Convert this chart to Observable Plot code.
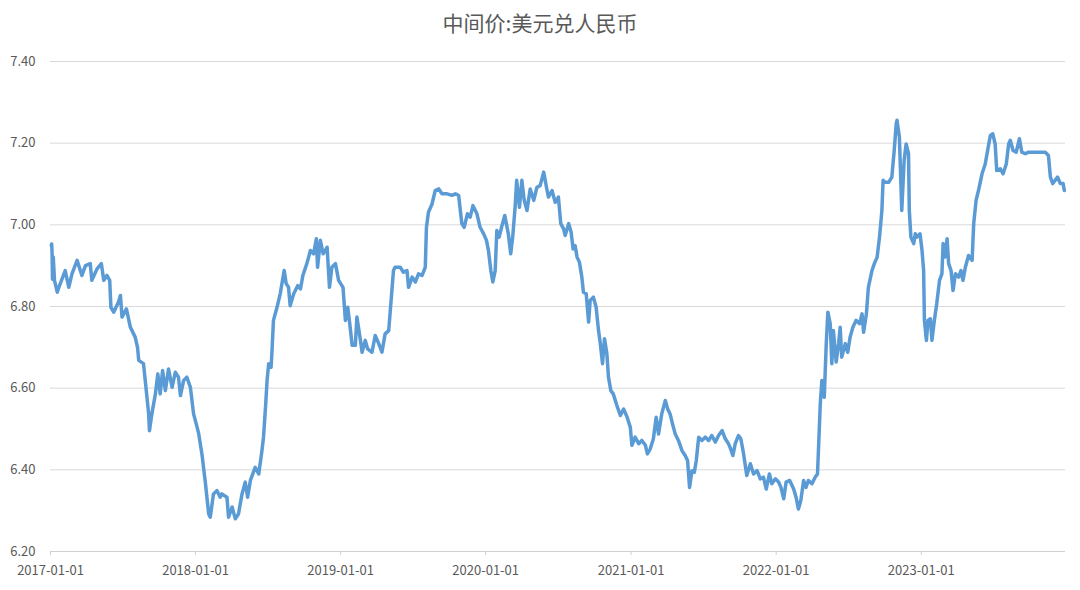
<!DOCTYPE html>
<html>
<head>
<meta charset="utf-8">
<script src="https://cdn.jsdelivr.net/npm/d3@7"></script>
<script src="https://cdn.jsdelivr.net/npm/@observablehq/plot@0.6"></script>
<style>
  html, body { margin: 0; padding: 0; background: #ffffff; }
  #wrap { width: 1080px; height: 590px; overflow: hidden; }
  #title {
    height: 40px; line-height: 44px; text-align: center;
    font-family: "Microsoft YaHei", "Noto Sans CJK SC", sans-serif;
    font-size: 21px; color: #595959;
  }
</style>
</head>
<body>
<div id="wrap">
  <div id="title">中间价:美元兑人民币</div>
  <div id="chart"></div>
</div>
<script>
const chartTitle = "中间价:美元兑人民币";

const dates = [
"2017-01-03","2017-01-04","2017-01-05","2017-01-06","2017-01-08","2017-01-11","2017-01-18","2017-01-22","2017-02-07","2017-02-16",
"2017-02-24","2017-03-09","2017-03-21","2017-03-30","2017-04-11","2017-04-15","2017-04-28","2017-05-09","2017-05-15","2017-05-23",
"2017-05-30","2017-06-02","2017-06-09","2017-06-21","2017-06-26","2017-06-30","2017-07-11","2017-07-21","2017-08-02","2017-08-08",
"2017-08-11","2017-08-23","2017-08-30","2017-09-05","2017-09-07","2017-09-13","2017-09-22","2017-09-28","2017-10-04","2017-10-10",
"2017-10-17","2017-10-25","2017-11-03","2017-11-11","2017-11-19","2017-11-24","2017-12-02","2017-12-10","2017-12-19","2017-12-27",
"2018-01-05","2018-01-09","2018-01-17","2018-01-26","2018-02-03","2018-02-07","2018-02-15","2018-02-24","2018-03-04","2018-03-08",
"2018-03-21","2018-03-25","2018-04-03","2018-04-11","2018-04-19","2018-04-28","2018-05-06","2018-05-12","2018-05-19","2018-05-31",
"2018-06-09","2018-06-17","2018-06-21","2018-06-26","2018-06-30","2018-07-04","2018-07-10","2018-07-12","2018-07-16","2018-07-25",
"2018-08-02","2018-08-12","2018-08-17","2018-08-23","2018-08-27","2018-09-05","2018-09-15","2018-09-22","2018-09-28","2018-10-08",
"2018-10-17","2018-10-25","2018-11-01","2018-11-04","2018-11-11","2018-11-18","2018-11-28","2018-12-04","2018-12-10","2018-12-19",
"2018-12-27","2019-01-07","2019-01-13","2019-01-19","2019-01-25","2019-01-30","2019-02-07","2019-02-11","2019-02-20","2019-02-24",
"2019-03-04","2019-03-10","2019-03-21","2019-03-29","2019-04-07","2019-04-15","2019-04-23","2019-05-02","2019-05-06","2019-05-14",
"2019-05-18","2019-05-31","2019-06-08","2019-06-17","2019-06-21","2019-06-30","2019-07-08","2019-07-16","2019-07-25","2019-08-02",
"2019-08-05","2019-08-10","2019-08-19","2019-08-27","2019-09-05","2019-09-13","2019-09-26","2019-10-08","2019-10-17","2019-10-25",
"2019-11-02","2019-11-08","2019-11-16","2019-11-23","2019-11-30","2019-12-10","2019-12-18","2019-12-27","2020-01-03","2020-01-08",
"2020-01-14","2020-01-19","2020-01-25","2020-01-29","2020-02-04","2020-02-10","2020-02-18","2020-02-27","2020-03-04","2020-03-09",
"2020-03-15","2020-03-19","2020-03-26","2020-04-01","2020-04-07","2020-04-14","2020-04-22","2020-05-01","2020-05-09","2020-05-17",
"2020-05-26","2020-06-02","2020-06-07","2020-06-16","2020-06-24","2020-07-02","2020-07-08","2020-07-15","2020-07-19","2020-07-28",
"2020-08-03","2020-08-08","2020-08-13","2020-08-18","2020-08-24","2020-08-30","2020-09-03","2020-09-10","2020-09-16","2020-09-20",
"2020-09-28","2020-10-05","2020-10-11","2020-10-15","2020-10-21","2020-10-26","2020-11-01","2020-11-05","2020-11-11","2020-11-17",
"2020-11-26","2020-12-05","2020-12-13","2020-12-22","2020-12-30","2021-01-03","2021-01-11","2021-01-20","2021-01-28","2021-02-06",
"2021-02-11","2021-02-18","2021-02-26","2021-03-05","2021-03-11","2021-03-19","2021-03-28","2021-04-03","2021-04-09","2021-04-16",
"2021-04-22","2021-04-30","2021-05-09","2021-05-17","2021-05-23","2021-05-28","2021-06-03","2021-06-09","2021-06-14","2021-06-20",
"2021-06-28","2021-07-07","2021-07-15","2021-07-23","2021-08-01","2021-08-09","2021-08-18","2021-08-26","2021-09-03","2021-09-07",
"2021-09-14","2021-09-20","2021-09-28","2021-10-04","2021-10-11","2021-10-19","2021-10-28","2021-11-05","2021-11-14","2021-11-22",
"2021-11-30","2021-12-07","2021-12-15","2021-12-21","2021-12-30","2022-01-07","2022-01-13","2022-01-20","2022-01-26","2022-02-04",
"2022-02-14","2022-02-20","2022-02-26","2022-03-04","2022-03-11","2022-03-17","2022-03-23","2022-04-01","2022-04-09","2022-04-15",
"2022-04-18","2022-04-22","2022-04-26","2022-05-02","2022-05-07","2022-05-11","2022-05-17","2022-05-21","2022-05-25","2022-06-01",
"2022-06-07","2022-06-11","2022-06-15","2022-06-24","2022-06-30","2022-07-06","2022-07-13","2022-07-21","2022-07-30","2022-08-05",
"2022-08-09","2022-08-16","2022-08-21","2022-08-30","2022-09-05","2022-09-12","2022-09-18","2022-09-24","2022-09-27","2022-10-02",
"2022-10-11","2022-10-19","2022-10-25","2022-10-30","2022-11-01","2022-11-07","2022-11-13","2022-11-19","2022-11-24","2022-11-30",
"2022-12-02","2022-12-06","2022-12-13","2022-12-17","2022-12-21","2022-12-29","2023-01-03","2023-01-07","2023-01-09","2023-01-14",
"2023-01-18","2023-01-24","2023-01-28","2023-02-03","2023-02-09","2023-02-16","2023-02-22","2023-02-25","2023-03-02","2023-03-07",
"2023-03-11","2023-03-17","2023-03-22","2023-03-28","2023-04-05","2023-04-11","2023-04-16","2023-04-22","2023-04-30","2023-05-09",
"2023-05-13","2023-05-19","2023-05-25","2023-06-03","2023-06-11","2023-06-17","2023-06-24","2023-06-30","2023-07-06","2023-07-10",
"2023-07-19","2023-07-26","2023-08-03","2023-08-09","2023-08-13","2023-08-20","2023-08-28","2023-09-05","2023-09-11","2023-09-20",
"2023-09-28","2023-10-11","2023-10-27","2023-11-09","2023-11-17","2023-11-22","2023-11-28","2023-12-04","2023-12-10","2023-12-17",
"2023-12-24","2023-12-27"
];

const values = [
6.950,6.953,6.931,6.867,6.921,6.864,6.835,6.847,6.888,6.847,
6.880,6.913,6.876,6.900,6.905,6.864,6.892,6.905,6.864,6.876,
6.864,6.798,6.786,6.811,6.827,6.774,6.794,6.749,6.725,6.700,
6.668,6.660,6.594,6.537,6.496,6.537,6.586,6.635,6.586,6.643,
6.594,6.647,6.602,6.639,6.627,6.582,6.619,6.627,6.602,6.537,
6.504,6.488,6.439,6.366,6.292,6.284,6.341,6.349,6.333,6.341,
6.333,6.284,6.309,6.280,6.292,6.341,6.370,6.333,6.374,6.406,
6.390,6.447,6.480,6.553,6.619,6.660,6.651,6.684,6.766,6.798,
6.831,6.888,6.856,6.847,6.802,6.831,6.851,6.843,6.876,6.905,
6.937,6.929,6.966,6.896,6.962,6.929,6.945,6.847,6.896,6.905,
6.864,6.847,6.766,6.798,6.749,6.705,6.705,6.774,6.717,6.688,
6.717,6.696,6.688,6.729,6.709,6.688,6.733,6.741,6.790,6.888,
6.896,6.896,6.884,6.888,6.847,6.872,6.860,6.880,6.876,6.896,
6.994,7.031,7.051,7.084,7.088,7.076,7.076,7.072,7.076,7.072,
7.003,6.994,7.027,7.019,7.047,7.027,6.994,6.978,6.962,6.937,
6.888,6.860,6.888,6.986,6.970,6.994,7.023,6.978,6.929,6.970,
7.043,7.109,7.043,7.109,7.060,7.035,7.088,7.060,7.092,7.096,
7.129,7.092,7.068,7.084,7.055,7.068,7.003,6.990,6.974,7.003,
6.982,6.941,6.949,6.921,6.908,6.872,6.835,6.831,6.762,6.815,
6.823,6.798,6.741,6.713,6.660,6.721,6.684,6.627,6.594,6.586,
6.558,6.533,6.549,6.529,6.504,6.460,6.480,6.464,6.472,6.460,
6.439,6.451,6.476,6.529,6.488,6.537,6.570,6.549,6.537,6.509,
6.488,6.472,6.447,6.435,6.423,6.357,6.398,6.394,6.423,6.480,
6.472,6.480,6.472,6.484,6.468,6.484,6.496,6.476,6.464,6.455,
6.435,6.464,6.484,6.476,6.439,6.386,6.415,6.390,6.398,6.378,
6.382,6.353,6.390,6.366,6.378,6.370,6.357,6.329,6.370,6.374,
6.353,6.333,6.304,6.325,6.374,6.357,6.374,6.366,6.382,6.390,
6.464,6.562,6.619,6.578,6.709,6.786,6.758,6.660,6.741,6.664,
6.709,6.749,6.676,6.709,6.688,6.725,6.749,6.766,6.758,6.782,
6.737,6.782,6.847,6.888,6.905,6.921,6.970,7.035,7.109,7.104,
7.104,7.117,7.182,7.247,7.256,7.215,7.035,7.158,7.198,7.174,
7.035,6.970,6.954,6.978,6.970,6.978,6.937,6.888,6.766,6.717,
6.766,6.770,6.717,6.766,6.807,6.864,6.880,6.954,6.921,6.966,
6.905,6.888,6.839,6.880,6.872,6.888,6.864,6.896,6.925,6.913,
7.003,7.060,7.084,7.125,7.149,7.182,7.219,7.223,7.198,7.133,
7.137,7.125,7.149,7.198,7.207,7.182,7.178,7.211,7.178,7.174,
7.178,7.178,7.178,7.178,7.170,7.117,7.101,7.109,7.117,7.101,
7.101,7.084
];

const yTicks = [6.2, 6.4, 6.6, 6.8, 7.0, 7.2, 7.4];
const xTickLabels = ["2017-01-01","2018-01-01","2019-01-01","2020-01-01","2021-01-01","2022-01-01","2023-01-01"];
const xDomain = ["2017-01-01", "2023-12-30"];

const parse = d3.utcParse("%Y-%m-%d");
const data = dates.map((d, i) => ({date: parse(d), value: values[i]}));
const xTicks = xTickLabels.map(parse);

const chart = Plot.plot({
  width: 1080,
  height: 550,
  marginTop: 21,
  marginBottom: 39,
  marginLeft: 50,
  marginRight: 15,
  style: {
    fontFamily: "'Microsoft YaHei', 'Noto Sans CJK SC', 'Liberation Sans', sans-serif",
    fontSize: "13px",
    color: "#595959",
    background: "#ffffff",
    overflow: "visible"
  },
  x: {type: "utc", domain: xDomain.map(parse)},
  y: {domain: [6.2, 7.4]},
  marks: [
    Plot.gridY(yTicks, {stroke: "#d9d9d9", strokeOpacity: 1, strokeWidth: 1}),
    Plot.ruleY([6.2], {stroke: "#d0d0d0", strokeWidth: 1}),
    Plot.axisY(yTicks, {tickSize: 0, tickPadding: 15, tickFormat: d => d.toFixed(2), fill: "#595959", label: null}),
    Plot.axisX(xTicks, {tickSize: 4, tickPadding: 10, stroke: "#d0d0d0", tickFormat: d3.utcFormat("%Y-%m-%d"), fill: "#595959", label: null}),
    Plot.line(data, {x: "date", y: "value", stroke: "#5b9bd5", strokeWidth: 3.5, strokeLinejoin: "round", strokeLinecap: "round"})
  ]
});
document.getElementById("chart").appendChild(chart);
</script>
</body>
</html>
